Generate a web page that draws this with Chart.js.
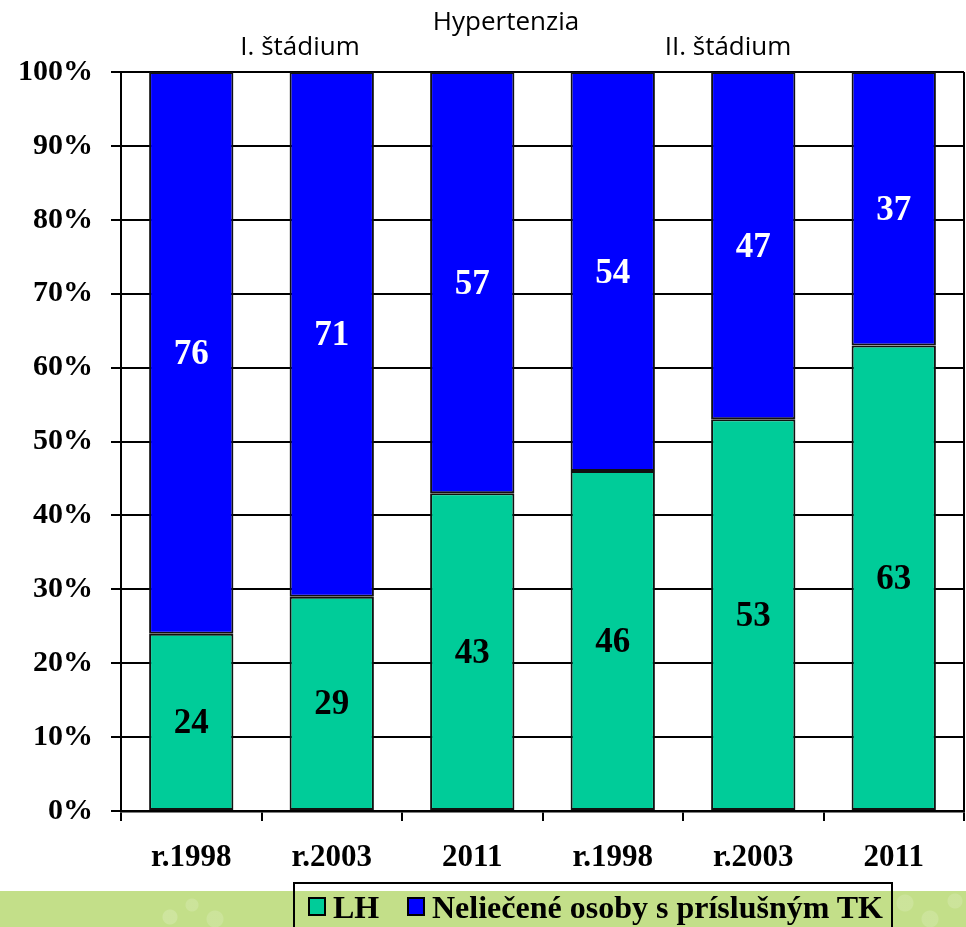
<!DOCTYPE html>
<html>
<head>
<meta charset="utf-8">
<script src="https://cdn.jsdelivr.net/npm/chart.js@4.4.1/dist/chart.umd.min.js"></script>
<style>
  html, body { margin: 0; padding: 0; background: #fff; }
  #wrap { position: relative; width: 966px; height: 927px; overflow: hidden; }
  #band {
    position: absolute; left: 0; top: 891px; width: 966px; height: 36px;
    background-color: #c3df89;
    background-image:
      radial-gradient(circle at 170px 26px, rgba(255,255,255,0.18) 0 7px, transparent 8px),
      radial-gradient(circle at 192px 14px, rgba(255,255,255,0.15) 0 6px, transparent 7px),
      radial-gradient(circle at 215px 28px, rgba(255,255,255,0.15) 0 8px, transparent 9px),
      radial-gradient(circle at 905px 12px, rgba(255,255,255,0.15) 0 8px, transparent 9px),
      radial-gradient(circle at 930px 28px, rgba(255,255,255,0.15) 0 8px, transparent 9px),
      radial-gradient(circle at 955px 10px, rgba(255,255,255,0.15) 0 7px, transparent 8px);
  }
  canvas { position: absolute; left: 0; top: 0; }
  .title { position: absolute; font-family: "Liberation Sans Narrow", "Open Sans", sans-serif; font-size: 26px; color: #000; white-space: nowrap; transform: translateX(-50%); }
  #legend {
    position: absolute; left: 293px; top: 882px; width: 600px; height: 50px;
    border: 2px solid #000; box-sizing: border-box;
    font-family: "Liberation Serif", serif; font-weight: bold; font-size: 32px;
    white-space: nowrap;
  }
  #legend .item { position: absolute; top: 5px; }
  #legend .sw { display: inline-block; width: 14px; height: 15px; border: 2px solid #000; margin-right: 7px; vertical-align: 2px; }
</style>
</head>
<body>
<div id="wrap">
  <div id="band"></div>
  <canvas id="chart" width="966" height="927"></canvas>
  <div class="title" style="left:506px; top:2px;">Hypertenzia</div>
  <div class="title" style="left:300px; top:27px;">I. štádium</div>
  <div class="title" style="left:728px; top:27px;">II. štádium</div>
  <div id="legend"></div>
</div>
<script>
var categories = ["r.1998", "r.2003", "2011", "r.1998", "r.2003", "2011"];
var seriesNames = ["LH", "Neliečené osoby s príslušným TK"];
var lhValues = [24, 29, 43, 46, 53, 63];
var untreatedValues = [76, 71, 57, 54, 47, 37];
var seriesColors = ["#00cc99", "#0000ff"];
var labelColors = ["#000000", "#ffffff"];

// legend built from the series names/colours
var legend = document.getElementById("legend");
var legendX = [13, 112];
seriesNames.forEach(function (name, i) {
  var item = document.createElement("span");
  item.className = "item";
  item.style.left = legendX[i] + "px";
  item.innerHTML = '<span class="sw" style="background:' + seriesColors[i] + '"></span>' + name;
  legend.appendChild(item);
});

var valueLabels = {
  id: "valueLabels",
  afterDatasetsDraw: function (chart) {
    var ctx = chart.ctx;
    ctx.save();
    ctx.font = "bold 35px 'Liberation Serif'";
    ctx.textAlign = "center";
    ctx.textBaseline = "middle";
    chart.data.datasets.forEach(function (ds, di) {
      var meta = chart.getDatasetMeta(di);
      ctx.fillStyle = labelColors[di];
      meta.data.forEach(function (bar, i) {
        ctx.fillText(ds.data[i], bar.x, (bar.y + bar.base) / 2 + 2);
      });
    });
    ctx.restore();
  }
};

var rightFrame = {
  id: "rightFrame",
  afterDraw: function (chart) {
    var a = chart.chartArea, ctx = chart.ctx;
    ctx.save();
    ctx.strokeStyle = "#000";
    ctx.lineWidth = 2;
    ctx.beginPath();
    ctx.moveTo(a.right, a.top);
    ctx.lineTo(a.right, a.bottom);
    ctx.stroke();
    ctx.restore();
  }
};

new Chart(document.getElementById("chart"), {
  type: "bar",
  data: {
    labels: categories,
    datasets: [
      {
        label: seriesNames[0],
        data: lhValues,
        backgroundColor: seriesColors[0],
        borderColor: "#111",
        borderWidth: 2,
        borderSkipped: false,
        barPercentage: 1,
        categoryPercentage: 0.6
      },
      {
        label: seriesNames[1],
        data: untreatedValues,
        backgroundColor: seriesColors[1],
        borderColor: "#111",
        borderWidth: 2,
        borderSkipped: false,
        barPercentage: 1,
        categoryPercentage: 0.6
      }
    ]
  },
  options: {
    responsive: false,
    animation: false,
    layout: { padding: { top: 72, right: 2, left: 0, bottom: 0 } },
    plugins: {
      legend: { display: false },
      tooltip: { enabled: false }
    },
    scales: {
      x: {
        stacked: true,
        offset: true,
        grid: { drawOnChartArea: false, drawTicks: true, tickLength: 10, tickColor: "#000", lineWidth: 2 },
        border: { display: true, color: "#000", width: 2.5 },
        ticks: {
          color: "#000",
          padding: 18,
          font: { family: "Liberation Serif", weight: "bold", size: 31 }
        },
        afterFit: function (scale) { scale.height = 116; }
      },
      y: {
        stacked: true,
        min: 0,
        max: 100,
        grid: { color: "#000", lineWidth: 2, tickLength: 10, tickColor: "#000" },
        border: { display: true, color: "#000", width: 2 },
        ticks: {
          stepSize: 10,
          color: "#000",
          padding: 18,
          font: { family: "Liberation Serif", weight: "bold", size: 30 },
          callback: function (v) { return v + "%"; }
        },
        afterFit: function (scale) { scale.width = 121; }
      }
    }
  },
  plugins: [valueLabels, rightFrame]
});
</script>
</body>
</html>
